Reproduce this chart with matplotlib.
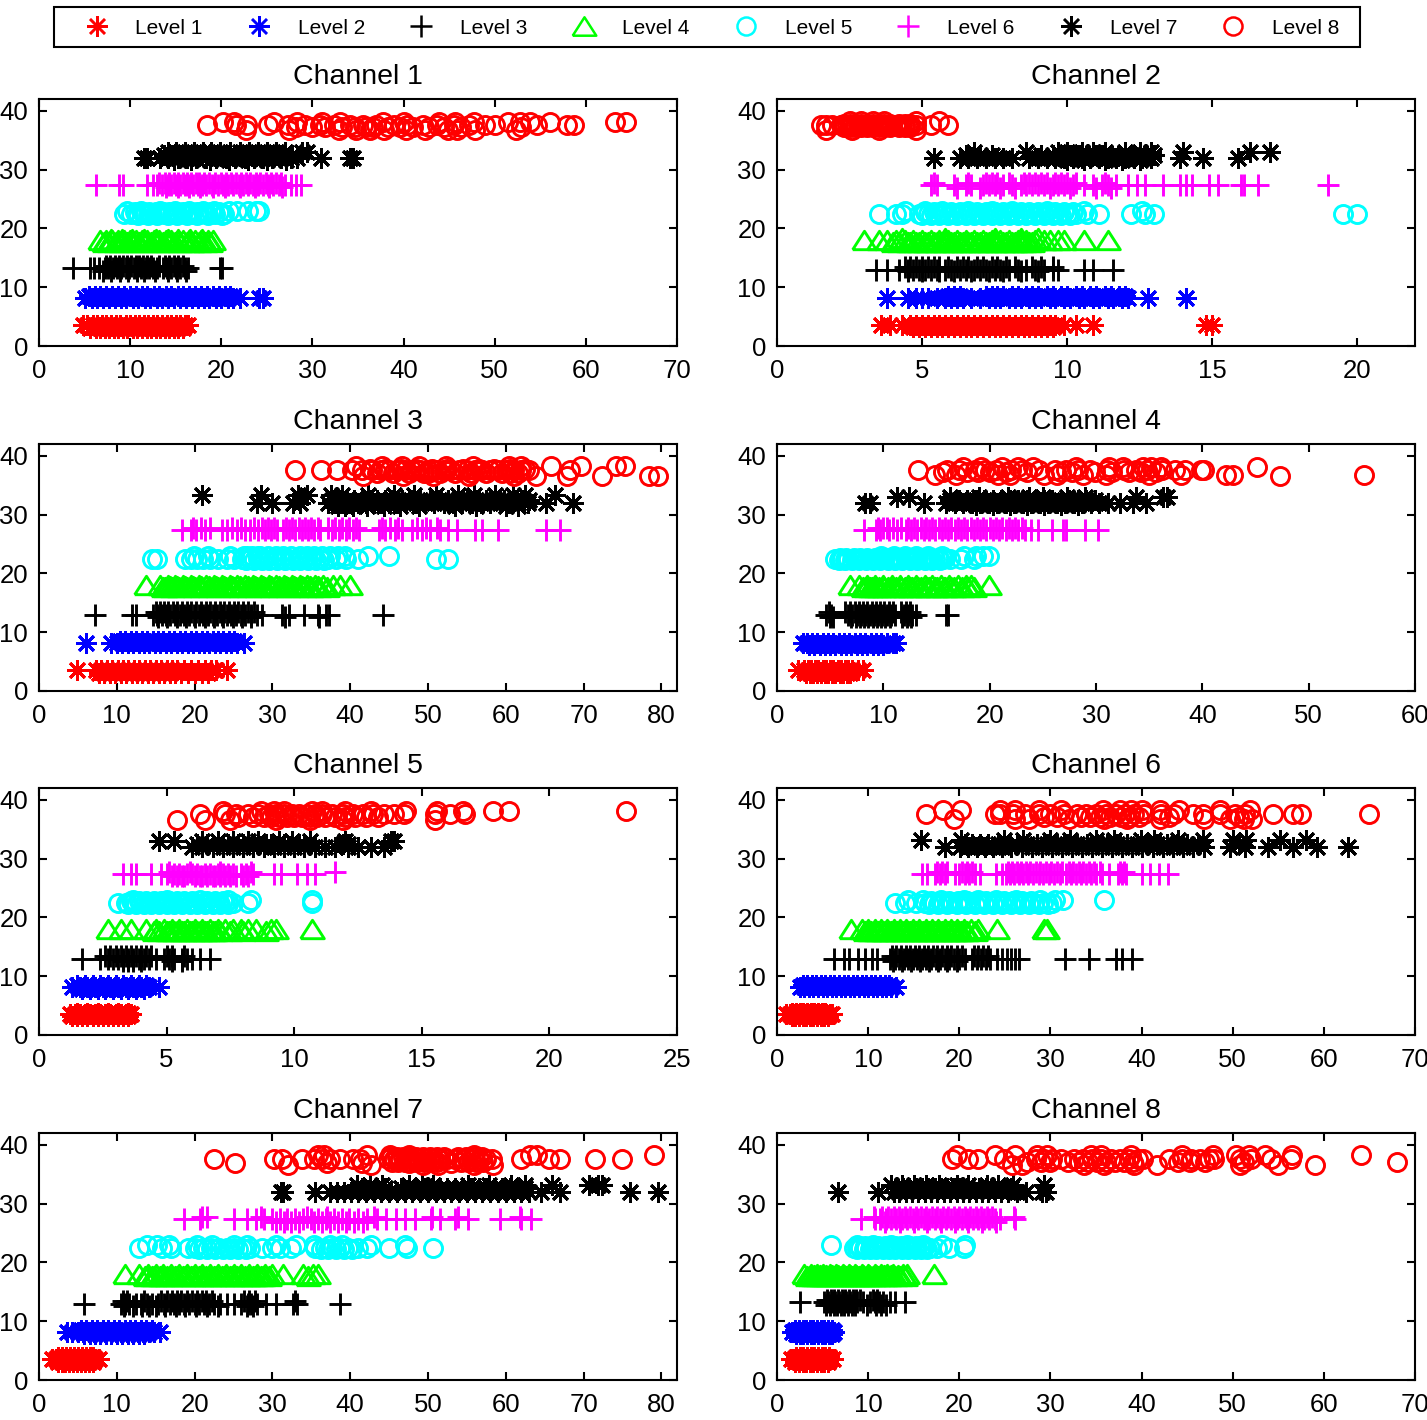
import matplotlib
matplotlib.use("Agg")
import matplotlib.pyplot as plt
from matplotlib.lines import Line2D
from matplotlib.patches import Rectangle

plt.rcParams['font.family'] = ['Liberation Sans', 'DejaVu Sans']

# every level is a list of rows (y, [x values])
ch1_l1 = [(3.5, [4.8,5.3,5.9,6.4,6.9,7.4,7.9,8.4,8.9,9.5,10.0,10.5,11.0,11.5,12.0,12.5,13.0,13.5,14.0,14.5,15.0,15.5,16.0,16.3]),
          (3.1, [5.6,6.2,6.7,7.2,7.7,8.2,8.7,9.2,9.7,10.3,10.8,11.3,11.8,12.3,12.8,13.3,13.8,14.3,14.8,15.3,15.8])]
ch1_l2 = [(8.2, [5.1,5.8,6.4,7.0,7.7,8.3,9.0,9.6,10.3,10.9,11.6,12.2,12.9,13.5,14.2,14.8,15.5,16.1,16.8,17.4,18.1,18.7,19.4,20.0,20.7,21.3,22.0,24.1,24.6]),
          (8.5, [5.5,6.1,6.7,7.4,8.0,8.7,9.3,10.0,10.6,11.3,11.9,12.6,13.2,13.9,14.5,15.2,15.8,16.5,17.1,17.8,18.4,19.1,19.7,20.4,21.0])]
ch1_l3 = [(13.2, [3.7,5.6,6.0,6.6,7.2,7.6,8.1,8.6,9.0,9.5,9.9,10.4,10.8,11.2,11.7,12.1,12.5,13.0,13.6,14.0,14.5,15.0,15.5,16.0,16.3,19.9,20.1]),
          (13.6, [7.4,7.8,8.3,8.8,9.2,9.7,10.1,10.6,11.0,11.4,11.9,12.3,13.2,13.8,14.3,14.8,15.3,15.8]),
          (12.8, [7.0,7.9,8.9,9.8,10.7,11.5,12.7,14.2,15.1,16.1])]
ch1_l4 = [(18.0, [6.7,7.4,8.0,8.7,9.3,10.0,10.6,11.3,11.9,12.6,13.2,13.9,14.5,15.2,15.8,16.5,17.1,17.8,18.5,19.1]),
          (17.7, [7.1,7.7,8.4,9.0,9.7,10.3,11.0,11.6,12.3,12.9,13.6,14.2,14.9,15.5,16.2,16.8,17.5,18.2,18.8]),
          (18.2, [7.9,9.1,10.2,11.5,12.8,14.1,15.3,16.6,17.9])]
ch1_l5 = [(22.5, [9.3,10.1,10.8,11.6,12.3,13.1,13.8,14.6,15.3,16.1,16.8,17.6,18.4,19.3,20.3]),
          (23.0, [9.7,11.2,13.3,14.9,16.5,18.0,19.2,20.9,21.7,22.9,23.8,24.1]),
          (22.8, [10.5,11.4,12.1,12.8,13.6,14.3,15.0,15.8,16.6,17.3,18.1,18.9,19.7]),
          (22.2, [10.9,12.0,13.0,14.1,15.1,16.2,17.3,18.5,20.1])]
ch1_l6 = [(27.3, [6.3,8.8,9.2,11.9,12.5,13.0,13.5,14.1,14.5,15.0,15.5,16.0,16.4,16.9,17.4,17.9,18.3,19.0,19.6,20.2,20.7,21.3,21.9,22.4,22.9,23.5,24.0,24.6,25.1,25.7,26.3,27.0,27.6,28.2,28.7]),
          (27.7, [13.2,13.8,14.3,14.8,15.3,15.8,16.2,16.7,17.2,17.6,18.1,18.6,19.3,20.0,20.5,21.1,21.6,22.2,22.7,23.2,23.8,24.3,24.9,25.4,26.0,26.6]),
          (27.0, [13.9,15.2,16.5,17.7,19.1,20.4,22.1,23.7,25.2,26.7])]
ch1_l7 = [(32.0, [11.5,11.9,13.3,14.2,15.2,16.2,17.2,18.3,19.4,20.5,21.5,22.6,23.6,24.6,25.6,26.5,27.6,28.3,30.9,34.1,34.4]),
          (33.0, [14.1,15.0,16.0,17.0,18.0,18.9,19.9,21.0,22.0,23.0,24.0,25.0,26.0,27.0,28.9,29.4]),
          (32.5, [13.7,14.6,15.6,16.6,17.6,18.6,19.6,20.7,21.7,22.7,23.7,24.7,25.7,26.7,27.8]),
          (31.7, [14.8,16.7,18.8,20.9,22.9,25.0,27.1])]
ch1_l8 = [(37.5, [18.4,21.6,22.8,25.1,27.3,29.2,30.8,32.4,34.1,35.5,37.0,38.9,40.4,42.1,43.7,45.5,47.2,48.9,50.0,54.6,57.9,58.7]),
          (36.8, [22.7,27.4,32.9,34.8,36.3,37.9,40.3,42.4,44.9,45.9,47.8,52.3]),
          (38.1, [20.2,21.4,25.8,28.3,31.1,33.0,37.7,40.0,43.9,45.6,47.7,51.5,52.8,53.9,56.1,63.2,64.4]),
          (37.3, [28.2,29.9,31.4,33.2,34.7,35.9,36.6,38.3,39.6,41.0,42.8,44.4,46.3,52.9])]

ch2_l1 = [(3.5, [3.6,3.9,4.3,4.6,4.8,5.0,5.2,5.4,5.6,5.8,6.0,6.2,6.4,6.6,6.8,7.0,7.2,7.4,7.6,7.8,8.0,8.2,8.4,8.6,8.8,9.0,9.2,9.4,9.6,9.9,10.3,10.9,14.8,15.0]),
          (3.2, [4.7,4.9,5.1,5.3,5.5,5.7,5.9,6.1,6.3,6.5,6.7,6.9,7.1,7.3,7.5,7.7,7.9,8.1,8.3,8.5,8.7,8.9,9.1,9.3,9.5])]
ch2_l2 = [(8.2, [3.8,4.5,4.8,5.0,5.2,5.5,5.8,6.0,6.2,6.4,6.7,7.0,7.3,7.5,7.7,8.0,8.2,8.4,8.7,8.9,9.1,9.4,9.6,9.9,10.1,10.4,10.6,10.9,11.1,11.4,11.6,11.9,12.1,12.8,14.1]),
          (8.5, [5.9,6.1,6.3,7.2,7.4,7.6,7.8,8.1,8.3,8.6,8.8,9.0,9.3,9.5,9.8,10.0,10.3,10.5,10.8,11.0,11.3,11.5,11.8,12.0])]
ch2_l3 = [(13.0, [3.4,3.8,4.2,4.5,4.7,4.9,5.1,5.3,5.5,5.8,6.0,6.3,6.5,6.8,7.0,7.2,7.5,7.7,8.0,8.3,8.6,8.9,9.2,9.5,9.7,10.6,10.9,11.6]),
          (13.4, [4.4,4.6,4.8,5.0,5.2,5.4,5.6,5.9,6.2,6.4,6.6,6.9,7.1,7.4,7.6,7.9,8.2,8.8,9.1,9.5]),
          (12.7, [4.5,5.0,5.6,6.1,6.7,7.3,7.8,8.4,9.0])]
ch2_l4 = [(18.0, [3.0,3.5,3.8,4.1,4.4,4.7,5.0,5.3,5.6,5.9,6.2,6.5,6.8,7.1,7.4,7.7,8.0,8.3,8.6,8.9,9.2,9.4,9.7,9.9,10.6,11.4]),
          (17.7, [4.0,4.2,4.5,4.6,4.8,4.9,5.1,5.2,5.4,5.5,5.7,5.8,6.0,6.1,6.3,6.4,6.6,6.7,6.9,7.0,7.2,7.3,7.5,7.6,7.8,7.9,8.1,8.2,8.4,8.5,8.7,8.8]),
          (18.3, [4.3,5.8,7.5,8.4,9.0])]
ch2_l5 = [(22.5, [3.5,4.1,4.3,4.9,5.2,5.5,5.8,6.1,6.4,6.7,7.0,7.3,7.6,7.9,8.2,8.5,8.8,9.1,9.4,9.7,10.0,10.3,10.7,11.1,12.2,12.7,13.0,19.5,20.0]),
          (23.0, [4.4,5.1,5.7,6.6,7.4,8.1,9.3,10.6,12.6]),
          (22.3, [5.0,5.3,5.6,5.9,6.2,6.5,6.8,7.1,7.4,7.7,8.0,8.3,8.6,8.9,9.2,9.5,9.8,10.1]),
          (22.8, [5.1,5.4,5.7,6.0,6.3,6.6,6.9,7.2,7.5,7.8,8.1,8.4,8.7,9.0,9.3,9.6,9.9,10.2])]
ch2_l6 = [(27.3, [5.3,5.5,6.1,6.5,6.7,7.1,7.3,7.5,7.8,8.1,8.4,8.6,8.8,9.0,9.2,9.5,9.7,9.9,10.2,10.6,10.9,11.2,11.4,11.7,12.1,12.4,12.7,13.3,13.9,14.1,14.3,14.9,15.2,16.0,16.1,16.6,19.0]),
          (27.7, [5.4,6.6,7.2,7.4,7.6,8.0,8.5,8.7,8.9,9.1,9.3,9.6,9.8,10.0,10.3,11.3]),
          (26.9, [6.2,7.0,7.7,8.2,9.4,10.1,11.0,11.5])]
ch2_l7 = [(32.0, [5.4,6.3,6.6,6.9,7.2,7.5,7.8,8.1,8.7,9.0,9.3,9.6,9.9,10.2,10.5,10.8,11.1,11.4,11.7,12.0,12.3,12.6,12.9,13.9,14.7,15.9]),
          (33.0, [6.8,8.6,9.7,10.0,10.5,10.9,11.3,12.0,12.5,12.9,14.0,16.3,17.0]),
          (32.5, [6.5,7.0,7.4,9.1,9.5,9.8,10.1,10.4,10.7,11.0,11.2,11.5,11.8,12.2,12.7,13.0]),
          (31.7, [10.0,10.6,11.3,11.9,12.5])]
ch2_l8 = [(37.5, [1.5,1.7,1.9,2.2,2.4,2.6,2.8,3.0,3.2,3.4,3.6,3.8,4.1,4.3,4.5,4.8,5.3,5.9]),
          (36.8, [1.7,2.6,3.5,4.8]),
          (38.2, [2.5,2.9,3.3,3.7,4.8,5.6]),
          (37.8, [2.3,2.5,2.7,2.9,3.1,3.3,3.5,3.7,3.9,4.2,4.4,4.6]),
          (37.2, [2.3,2.5,2.7,2.9,3.1,3.3,3.5,3.7,3.9,4.2,4.4,4.6])]

ch3_l1 = [(3.5, [4.9,7.3,8.0,8.7,9.4,10.1,10.8,11.5,12.2,12.9,13.6,14.3,15.0,15.7,16.4,17.1,17.8,18.7,19.6,20.4,21.3,22.1,22.8,24.2]),
          (3.1, [7.7,8.4,9.1,9.8,10.5,11.2,11.9,12.6,13.3,14.0,14.7,15.4,16.1,16.8,17.5,18.3,19.2,20.0,20.9,21.7])]
ch3_l2 = [(8.2, [6.0,9.3,10.0,10.7,11.4,12.1,12.8,13.5,14.2,14.9,15.6,16.3,17.0,17.7,18.4,19.1,19.8,20.5,21.2,21.9,22.6,23.3,24.0,24.7,25.4,26.3]),
          (8.5, [10.4,11.1,11.8,12.5,13.2,13.9,14.6,15.3,16.0,16.7,17.4,18.1,18.8,19.5,20.2,20.9,21.6,22.3,23.0,23.7,24.4,25.1])]
ch3_l3 = [(13.0, [7.2,11.9,12.5,14.7,15.2,15.8,16.3,16.9,17.5,18.1,18.7,19.3,19.9,20.5,21.1,21.7,22.3,22.9,23.5,24.1,24.7,25.3,25.9,26.5,27.2,28.0,28.7,31.2,32.1,34.0,35.8,36.9,37.3,44.2]),
          (13.4, [15.0,15.5,16.1,16.6,17.2,17.8,18.4,19.0,19.6,20.2,20.8,21.4,22.0,22.6,23.2,23.8,24.4,25.0,25.6,26.2,26.8,27.6]),
          (12.6, [15.3,16.5,17.7,18.9,20.1,21.3,22.5,23.7,24.9,26.1,27.3,31.6,36.0])]
ch3_l4 = [(18.0, [13.7,15.5,16.6,17.5,18.5,19.5,20.5,21.5,22.5,23.5,24.5,25.5,26.5,27.5,28.5,29.5,30.5,31.5,32.5,33.5,34.5,35.5,36.5,37.8,38.7,40.0]),
          (17.7, [15.9,16.2,17.1,18.0,19.0,20.0,21.0,22.0,23.0,24.0,25.0,26.0,27.0,28.0,29.0,30.0,31.0,32.0,33.0,34.0,35.0,36.0,37.0]),
          (17.8, [16.9,17.8,18.8,19.8,20.8,21.8,22.8,23.8,24.8,25.8,26.8,27.8,28.8,29.8,30.8,31.8,32.8,33.8,34.8,35.8])]
ch3_l5 = [(22.5, [14.5,15.2,18.8,19.5,20.3,21.1,22.0,23.0,24.1,25.1,26.1,27.1,28.1,29.1,30.1,31.1,32.1,33.1,34.1,35.1,36.1,37.2,38.2,39.5,41.0,51.0,52.6]),
          (23.0, [19.9,21.7,24.6,26.7,28.2,31.4,33.6,35.4,39.3,42.3,45.0]),
          (22.2, [26.6,27.6,28.6,29.6,30.6,31.6,32.6,33.6,34.6,35.6,36.6]),
          (22.9, [26.4,27.4,28.4,29.4,30.4,32.4,34.4,36.4,37.4,38.4])]
ch3_l6 = [(27.3, [18.4,19.5,20.2,21.3,23.5,24.2,25.4,26.5,27.1,28.2,29.0,29.8,30.6,31.3,32.1,32.9,33.8,34.6,35.4,36.1,37.6,38.5,39.4,40.3,41.1,43.7,44.5,45.7,46.6,48.0,49.2,50.3,51.6,52.6,53.7,56.0,57.0,59.0,65.1,66.9]),
          (27.7, [19.8,20.8,22.0,24.8,26.0,27.6,28.6,29.4,30.2,31.7,32.5,33.4,34.2,35.0,35.8,37.1,38.0,39.0,39.9,40.7,44.1,45.1,46.1,48.6,49.8,51.1])]
ch3_l7 = [(32.0, [28.0,30.0,32.7,33.6,37.1,38.0,38.9,39.9,41.0,42.0,43.0,44.0,45.0,46.0,47.2,48.4,49.6,50.8,52.0,53.2,54.4,55.6,56.8,58.0,59.2,60.4,61.6,62.8,65.2,68.6]),
          (33.3, [21.0,28.5,33.3,34.4,37.5,39.0,42.3,45.6,48.2,51.0,53.9,55.9,58.6,60.9,62.5,66.3]),
          (32.5, [37.6,38.5,39.4,40.5,41.5,42.5,43.5,44.5,45.5,46.6,47.8,49.0,50.2,51.4,52.6,53.8,55.0,56.2,57.4,58.6,59.8,61.0,62.2,63.0]),
          (31.5, [38.4,39.3,40.3,42.2,44.3,46.4,48.8,53.5,56.2,60.0,61.5])]
ch3_l8 = [(37.5, [32.9,36.2,38.3,40.2,41.5,42.8,44.0,45.0,46.0,47.0,48.0,49.0,50.0,51.0,52.0,53.0,54.0,55.0,56.0,57.0,58.0,59.0,60.0,61.0,62.0,63.0,68.2]),
          (36.6, [41.7,46.8,50.7,55.3,61.0,63.9,67.8,72.3,78.4,79.6]),
          (38.2, [40.8,44.1,46.7,48.8,52.3,55.8,60.4,61.9,65.8,69.6,74.1,75.3]),
          (37.0, [43.5,45.5,47.5,49.5,50.0,51.5,53.5,55.5,57.5,59.5,60.5,61.5]),
          (37.8, [42.5,44.5,46.5,48.5,50.5,52.5,54.5,56.5,58.5,60.5,62.5])]

ch4_l1 = [(3.5, [2.0,2.5,2.9,3.2,3.6,3.9,4.3,4.6,5.0,5.3,5.7,6.0,6.4,6.7,7.1,7.6,8.1]),
          (3.1, [2.7,3.1,3.4,3.8,4.1,4.5,4.8,5.2,5.5,5.9,6.2,6.6,6.9])]
ch4_l2 = [(8.2, [2.4,2.8,3.3,3.8,4.3,4.8,5.3,5.8,6.3,6.8,7.3,7.8,8.3,8.8,9.3,9.8,10.3,10.9,11.2]),
          (7.9, [3.0,3.5,4.0,4.5,5.0,5.5,6.0,6.5,7.0,7.5,8.0,8.5,9.0,9.5,10.0])]
ch4_l3 = [(13.0, [4.6,5.1,6.7,7.1,7.5,7.9,8.3,8.7,9.1,9.5,9.9,10.3,10.7,11.1,11.9,12.3,12.7,13.1,15.9,16.1]),
          (13.4, [4.9,6.4,6.9,7.3,7.7,8.1,8.5,8.9,9.3,9.7,10.1,10.5,10.9,11.7,12.1,12.5]),
          (12.6, [5.0,5.3,7.0,7.4,7.8,8.2,8.6,9.0,9.4,9.8,10.2,10.6,11.8,12.2,12.6])]
ch4_l4 = [(18.0, [6.9,7.7,8.5,9.2,10.0,10.8,11.6,12.3,13.1,13.9,14.6,15.4,16.2,17.0,17.8,18.2,19.9]),
          (17.7, [8.1,8.9,9.6,10.4,11.2,12.0,12.7,13.5,14.3,15.0,15.8,16.6]),
          (17.6, [8.4,8.7,9.3,10.1,10.9,11.7,12.5,13.3,14.1,14.9,15.7,16.4,17.4,18.0,18.5])]
ch4_l5 = [(22.5, [5.5,6.1,6.7,7.4,8.0,8.7,9.3,10.0,10.7,11.4,12.1,12.8,13.5,14.2,14.9,15.6,16.3,17.3,18.5]),
          (23.0, [9.8,11.0,12.0,13.1,14.2,15.5,17.6,18.7,19.4,19.9]),
          (22.2, [5.8,6.4,7.1,7.7,8.4,9.0,9.7,10.4,11.1,11.8,12.5,13.2,13.9,14.6,15.3]),
          (22.7, [5.9,6.5,7.2,7.8,8.5,9.2,10.2,10.9,11.6,12.3,13.0,13.7,14.4,15.1,15.8])]
ch4_l6 = [(27.3, [8.2,9.3,9.7,10.5,11.3,12.1,12.6,13.2,13.8,14.3,14.9,15.5,16.1,16.7,17.3,17.9,18.5,19.1,19.7,20.3,20.9,21.5,22.1,22.7,23.3,23.9,24.5,25.9,26.9,27.2,29.0,30.2]),
          (27.7, [9.5,10.0,10.3,10.9,11.7,12.3,12.9,13.5,14.0,14.6,15.2,15.8,16.4,17.0,17.6,18.2,18.8,19.4,20.0,20.6,21.2,21.8,22.4,23.0])]
ch4_l7 = [(32.0, [8.3,8.7,13.8,15.9,16.7,17.5,18.3,19.1,19.9,20.7,21.5,22.3,23.1,23.9,24.7,25.5,26.3,27.1,27.9,28.7,29.5,30.3,31.1,32.3,33.5,34.7]),
          (33.0, [11.3,12.4,16.3,19.0,21.7,23.7,25.0,27.3,29.0,33.8,36.3,36.7]),
          (32.5, [16.3,17.1,17.9,18.7,19.5,20.3,21.1,21.9,22.7,23.5,24.3,25.1,25.9,26.7,27.5,28.3,29.1,29.9]),
          (31.7, [18.7,20.3,21.9,23.5,25.1,26.7,28.3])]
ch4_l8 = [(37.5, [13.3,16.0,17.1,18.6,19.6,20.6,22.0,23.0,24.6,26.1,27.2,28.3,29.4,31.0,32.6,33.8,34.8,36.2,37.4,38.4,39.9,40.2]),
          (36.8, [14.9,16.8,20.8,21.9,25.1,26.3,28.8,30.9,35.0,38.0,42.2,42.9,55.2]),
          (38.1, [17.5,19.2,21.2,22.7,24.1,28.1,31.2,32.5,34.4,35.2,36.1,45.1]),
          (36.5, [47.3]),
          (37.2, [15.6,17.9,18.9,20.0,21.5,23.5,26.7,27.7,29.9,31.5,33.1,34.2,35.6])]

ch5_l1 = [(3.5, [1.2,1.4,1.6,1.8,2.0,2.2,2.4,2.6,2.8,3.0,3.2,3.4,3.6]),
          (3.2, [1.3,1.5,1.7,1.9,2.1,2.3,2.5,2.7,2.9,3.1,3.3,3.5]),
          (3.8, [1.5,1.9,2.3,2.7,3.1,3.5])]
ch5_l2 = [(8.2, [1.3,1.6,1.9,2.2,2.5,2.8,3.1,3.4,3.7,4.0,4.3,4.7]),
          (8.5, [1.5,1.8,2.1,2.4,2.7,3.0,3.3,3.6,3.9,4.2]),
          (7.9, [1.7,2.0,2.3,2.6,2.9,3.2,3.5,3.8,4.1])]
ch5_l3 = [(13.0, [1.7,2.4,2.7,2.9,3.1,3.3,3.5,3.7,3.9,4.1,4.3,4.6,4.9,5.1,5.3,5.6,5.8,6.0,6.3,6.7]),
          (13.4, [2.6,2.8,3.0,3.2,3.4,3.6,3.8,4.0,4.2,4.4,5.0,5.2,5.7]),
          (12.6, [3.3,3.5,3.7,4.0,5.2,5.6])]
ch5_l4 = [(18.0, [2.7,3.2,3.6,4.2,4.6,4.9,5.2,5.5,5.8,6.1,6.4,6.7,7.0,7.3,7.6,7.9,8.2,8.5,9.1,9.3,10.7]),
          (17.7, [4.5,4.7,5.0,5.1,5.3,5.4,5.6,5.7,5.9,6.0,6.2,6.3,6.5,6.6,6.8,6.9,7.1,7.5,8.0,8.9])]
ch5_l5 = [(22.5, [3.1,3.4,3.7,4.0,4.3,4.6,4.9,5.2,5.5,5.8,6.1,6.4,6.7,7.0,7.3,7.6,8.2,10.7]),
          (23.0, [3.7,5.0,6.3,7.4,8.3,10.7]),
          (22.2, [3.5,3.8,4.1,4.4,4.7,5.0,5.3,5.6,5.9,6.2,6.5,6.8,7.1,7.4]),
          (22.8, [3.6,3.9,4.2,4.5,4.8,5.1,5.4,5.7,6.0,6.6,6.9,7.2])]
ch5_l6 = [(27.3, [3.3,3.6,3.8,4.4,4.8,5.0,5.3,5.5,5.8,6.0,6.2,6.5,6.7,7.0,7.2,7.4,7.6,7.9,8.1,8.4,9.2,9.5,10.1,10.5,10.8]),
          (27.7, [5.1,5.9,7.1,8.3,11.6]),
          (27.0, [5.2,5.4,5.6,5.7,6.1,6.3,6.4,6.6,6.8,6.9,7.1,7.3,7.5,7.7,8.0,8.2])]
ch5_l7 = [(32.0, [6.0,6.4,6.8,7.2,7.6,8.0,8.4,8.8,9.2,9.6,10.0,10.4,10.8,11.2,11.6,12.1,12.5,13.0,13.5]),
          (33.0, [4.7,5.3,6.4,7.0,7.6,8.2,8.6,9.4,9.9,10.6,12.0,13.8,13.9]),
          (32.5, [6.2,6.6,7.4,7.8,8.0,8.4,8.9,9.1,9.6,10.2,10.4,11.9,12.1])]
ch5_l8 = [(37.5, [6.3,7.3,7.7,8.2,8.6,9.0,9.3,9.6,9.9,10.2,10.5,10.8,11.1,11.5,11.9,12.3,12.7,13.1,13.5,13.9,14.3,15.5,16.1,16.7]),
          (36.5, [5.4,6.5,7.5,9.3,10.6,11.9,15.5]),
          (38.1, [7.2,8.7,9.2,9.6,10.7,11.1,12.0,13.0,14.4,15.6,16.6,17.8,18.4,23.0]),
          (37.0, [7.8,8.4,8.8,9.1,9.4,9.7,10.0,10.3,10.6,10.9,11.2,11.6,12.0,12.4,12.8,13.3])]

ch6_l1 = [(3.5, [1.0,1.4,1.8,2.2,2.6,3.0,3.4,3.8,4.2,4.6,5.0,5.4,5.8,6.0]),
          (3.2, [1.6,2.0,2.4,2.8,3.2,3.6,4.0,4.4,4.8,5.2,5.6]),
          (3.8, [1.7,2.1,2.5,2.9,3.3,3.7,4.1,4.5,4.9,5.3])]
ch6_l2 = [(8.2, [2.5,3.0,3.5,4.0,4.5,5.0,5.5,6.0,6.5,7.0,7.5,8.0,8.5,9.0,9.5,10.0,10.5,11.0,11.5,12.0,12.5,13.1]),
          (8.5, [2.8,3.3,3.8,4.3,4.8,5.3,5.8,6.3,6.8,7.3,7.8,8.3,8.8,9.3,9.8,10.3,10.8,11.3,11.8,12.3])]
ch6_l3 = [(13.0, [6.2,7.3,7.9,8.9,9.7,10.4,11.0,12.4,12.9,13.4,13.9,14.4,14.9,15.4,15.9,16.4,16.9,17.4,17.9,18.4,18.9,19.4,20.0,20.6,21.4,21.9,22.4,22.9,23.4,24.1,24.7,25.2,25.7,26.1,26.6,31.6,34.2,37.2,37.8,39.0]),
          (13.4, [12.6,13.1,13.6,14.1,14.6,15.1,15.6,16.1,16.6,17.1,17.6,18.1,18.6,19.1,19.7,20.3,21.6,22.1,22.6,23.1]),
          (12.6, [12.7,13.7,14.7,15.7,16.7,17.7,18.7,19.8])]
ch6_l4 = [(18.0, [8.1,9.3,10.0,10.7,11.4,12.1,12.8,13.5,14.2,14.9,15.6,16.3,17.0,17.7,18.4,19.1,19.8,20.5,21.3,22.0,24.1,29.3,29.6]),
          (17.7, [9.7,10.3,11.1,11.8,12.5,13.2,13.9,14.6,15.3,16.0,16.7,17.4,18.1,18.8,19.5,20.2,20.9,21.7]),
          (17.6, [10.1,10.9,11.6,12.3,13.0,13.7,14.4,15.1,15.8,16.5,17.2,17.9,18.6,19.3,20.0,20.7])]
ch6_l5 = [(22.5, [12.9,14.0,15.3,16.2,17.2,18.2,19.2,20.2,21.2,22.2,23.2,24.2,25.2,26.2,27.2,28.2,29.2,30.2]),
          (23.0, [14.4,16.0,18.0,20.5,22.0,24.0,26.2,28.9,30.5,31.4,35.9]),
          (22.2, [16.7,17.7,18.7,19.7,20.7,21.7,22.7,23.7,24.7,25.7,26.7,27.7,28.7,29.7]),
          (22.8, [16.9,17.9,18.9,19.9,20.9,21.9,22.9,23.9,24.9,25.9,26.9,27.9])]
ch6_l6 = [(27.3, [15.9,16.5,17.3,17.9,18.4,19.5,20.0,20.6,21.1,21.7,22.3,24.0,24.7,25.1,25.6,26.0,26.5,27.0,27.5,28.1,28.7,29.2,29.8,30.4,31.0,31.7,32.3,32.8,33.4,33.9,34.5,35.0,35.7,36.4,37.4,37.9,38.3,40.0,40.9,41.9,42.9]),
          (27.7, [17.6,18.1,18.7,20.3,20.9,21.4,25.3,25.8,26.3,26.8,27.3,27.8,28.4,28.9,29.5,30.1,30.7,31.3,32.0,32.5,33.1,33.6,34.2,34.8,35.4,37.6,38.1])]
ch6_l7 = [(32.0, [18.4,20.1,21.0,21.9,22.8,23.7,24.7,25.7,26.9,28.0,29.1,30.2,31.3,32.4,33.5,34.6,35.7,36.8,37.9,39.0,40.1,41.2,42.3,43.4,44.5,45.6,46.8,49.7,51.3,53.9,56.6,59.2,62.6]),
          (33.2, [15.8,20.2,24.9,27.0,30.0,32.1,35.0,37.0,39.9,41.4,44.0,46.7,50.0,51.5,55.2,58.0]),
          (32.5, [20.6,21.4,22.3,23.2,24.2,26.3,27.4,28.5,29.6,30.7,31.8,32.9,34.0,35.1,36.2,37.3,38.4,39.5,40.6,41.7,42.8,43.9,45.0,46.2,50.7])]
ch6_l8 = [(37.5, [16.4,23.9,24.5,25.9,27.2,28.7,30.0,31.5,32.9,33.9,35.0,36.1,37.2,38.2,39.2,40.3,42.1,43.6,45.6,46.7,48.6,50.2,51.4,54.4,56.6,57.5,64.9]),
          (36.7, [19.4,26.1,27.7,32.0,35.9,38.4,42.0,46.8,49.7,51.2,52.1]),
          (38.2, [18.2,20.2,24.5,26.1,28.8,31.2,35.8,37.6,38.8,40.1,42.0,44.1,48.6,51.9]),
          (37.1, [29.3,30.7,33.3,34.3,35.4,36.5,37.7,38.7,39.7,43.0,50.7])]

ch7_l1 = [(3.5, [1.7,2.2,2.7,3.2,3.7,4.2,4.7,5.2,5.7,6.2,6.7,7.2,7.7]),
          (3.1, [2.4,2.9,3.4,3.9,4.4,4.9,5.4,5.9,6.4,6.9]),
          (3.9, [2.5,3.0,3.5,4.0,4.5,5.0,5.5,6.0,6.5,7.0])]
ch7_l2 = [(8.2, [3.6,4.3,5.0,5.7,6.4,7.1,7.8,8.5,9.2,9.9,10.6,11.3,12.0,12.7,13.4,14.1,14.8,15.5]),
          (8.5, [5.4,6.1,6.8,7.5,8.2,8.9,9.6,10.3,11.0,11.7,12.4,13.1,13.8,14.5]),
          (7.9, [5.8,6.5,7.2,7.9,8.6,9.3,10.0,10.7,11.4,12.1,12.8,13.5])]
ch7_l3 = [(13.0, [5.8,10.5,11.0,11.6,12.5,13.1,13.9,14.5,15.3,16.1,16.8,17.4,18.0,18.6,19.3,20.0,20.6,21.2,21.8,22.5,23.3,24.1,25.1,26.0,26.8,27.3,28.0,29.2,30.4,32.6,33.1,38.7]),
          (13.5, [10.8,11.3,13.5,15.7,16.5,17.1,17.7,18.3,19.0,19.7,20.3,20.9,21.5,22.2,26.4,27.0,27.7,32.9]),
          (12.6, [10.9,12.1,13.3,14.2,15.0,16.2,17.6,18.8,20.2,21.6,23.0,26.7,27.5])]
ch7_l4 = [(18.0, [11.1,12.8,14.0,15.0,16.0,17.0,18.0,19.0,20.0,21.0,22.0,23.0,24.0,25.0,26.0,27.0,28.0,29.0,30.0,31.3,33.9,35.2,35.9]),
          (17.7, [13.6,14.5,15.5,16.5,17.5,18.5,19.5,20.5,21.5,22.5,23.5,24.5,25.5,26.5,27.5,28.5,29.5]),
          (17.6, [13.9,14.8,15.8,16.8,17.8,18.8,19.8,20.8,21.8,22.8,23.8,24.8,25.8,26.8,27.8,28.8,34.6])]
ch7_l5 = [(22.5, [12.8,15.8,17.0,19.1,20.1,21.1,22.1,23.1,24.1,25.1,26.1,27.1,28.7,30.0,31.0,32.4,35.5,36.7,37.7,38.7,39.7,41.0,42.1,45.0,47.3,50.6]),
          (23.0, [13.9,15.2,16.7,20.3,22.2,25.0,26.7,30.4,33.0,35.4,37.4,39.0,42.7,47.0]),
          (22.2, [20.6,21.6,22.6,23.6,24.6,25.6,26.6,36.2,37.2,38.2,39.2,40.2])]
ch7_l6 = [(27.3, [18.7,20.7,25.0,26.7,27.9,28.9,30.0,31.0,31.9,32.9,33.9,34.9,35.9,36.9,37.9,38.9,39.9,41.0,42.1,43.4,44.6,45.9,47.1,48.3,50.4,51.5,53.5,55.1,59.3,62.0,63.2]),
          (27.8, [20.9,21.6,28.5,34.4,37.0,43.0,50.5,53.9,61.8]),
          (26.9, [30.5,31.5,32.4,33.4,35.4,36.4,37.4,38.4,39.4,40.5,41.6])]
ch7_l7 = [(32.0, [31.1,31.3,35.5,37.4,38.3,39.2,40.1,41.0,42.0,43.0,44.0,45.0,46.0,47.0,48.0,49.0,50.0,51.0,52.0,53.0,54.0,55.0,56.0,57.0,58.0,59.0,60.0,61.0,62.0,63.0,64.5,67.0,75.9,79.5]),
          (33.2, [40.9,42.5,44.1,47.6,49.2,50.7,55.1,57.9,60.7,62.4,65.9,70.7,71.8,72.3]),
          (32.6, [41.5,42.5,43.5,44.5,46.5,47.5,48.5,49.5,50.5,51.5,52.5,53.5,54.5,55.5,56.5,57.5,58.5,59.5,60.5,61.5,62.5])]
ch7_l8 = [(37.5, [22.5,30.2,31.2,33.8,35.4,36.4,37.4,38.7,40.3,41.3,44.8,45.6,46.4,47.2,48.0,48.9,49.8,50.7,51.6,52.5,53.5,54.5,55.5,56.5,57.4,58.2,61.9,65.6,66.9,71.5,74.9]),
          (36.6, [32.0,42.7,49.3,51.3,55.9,58.3]),
          (36.9, [25.2,37.0,41.5,47.5,53.0]),
          (38.2, [35.8,36.6,42.2,45.1,47.5,55.9,63.1,64.0,79.1]),
          (37.9, [45.2,46.0,46.8,47.6,48.4,49.3,50.2,51.1,52.0,53.9,54.9,55.9,56.9]),
          (37.1, [45.4,46.2,47.0,47.8,48.6,49.5,50.4,51.2,54.2,55.2,56.2,57.1])]

ch8_l1 = [(3.5, [1.5,1.9,2.3,2.7,3.1,3.5,3.9,4.3,4.7,5.1,5.5,5.8,6.1]),
          (3.1, [2.0,2.4,2.8,3.2,3.6,4.0,4.4,4.8,5.2,5.6]),
          (3.9, [2.1,2.5,2.9,3.3,3.7,4.1,4.5,4.9,5.3,5.7])]
ch8_l2 = [(8.2, [1.7,2.2,2.6,3.0,3.4,3.8,4.2,4.6,5.0,5.4,5.8,6.2]),
          (8.5, [2.0,2.4,2.8,3.2,3.6,4.0,4.4,4.8,5.2,5.6,6.0]),
          (7.9, [2.1,2.5,2.9,3.3,3.7,4.1,4.5,4.9,5.3,5.7,6.0])]
ch8_l3 = [(13.2, [2.5,5.2,5.6,6.0,6.4,6.8,7.2,7.6,8.0,8.4,8.8,9.4,10.2,10.8,11.2,11.6,12.4,13.0,14.0]),
          (13.6, [5.5,5.9,6.3,6.7,7.1,7.5,7.9,8.3,8.7,9.1,10.5,11.0]),
          (12.7, [5.4,5.8,6.2,6.6,7.0,7.4,7.8,8.2,8.6,9.9,10.9,11.4,12.0])]
ch8_l4 = [(18.0, [3.0,3.7,4.4,5.1,5.8,6.5,7.2,7.9,8.6,9.3,10.0,10.7,11.4,12.1,12.7,13.8,14.3,17.2]),
          (17.7, [3.3,3.6,3.9,4.2,4.5,4.8,5.0,5.3,5.6,5.9,6.2,6.5,6.8,7.0,7.3,7.6,7.9,8.2,8.5,8.8,9.0,9.3,9.6,9.9,10.2,10.5,10.8,11.1,11.5,11.9,12.3,12.9,13.5,14.0]),
          (17.8, [4.1,4.7,5.4,6.0,6.7,7.4,8.0,8.7,9.4,10.1,10.9,11.7,12.5,13.3])]
ch8_l5 = [(22.5, [8.4,9.1,9.8,10.5,11.2,11.9,12.6,13.3,14.0,14.7,15.4,16.1,16.8,17.5,18.9,20.5]),
          (23.0, [5.9,8.8,10.5,12.5,14.3,16.0,18.1,20.6]),
          (22.2, [8.8,9.5,10.2,10.9,11.6,12.3,13.0,13.7,14.4,15.1,15.8,16.5]),
          (22.8, [9.0,9.7,10.4,11.1,11.8,12.9,13.6,14.5,15.2,15.9])]
ch8_l6 = [(27.3, [9.2,10.8,11.3,12.0,12.5,13.1,13.7,14.3,14.9,15.5,16.1,16.7,17.3,17.9,18.5,19.1,19.7,20.3,20.9,21.5,22.1,22.7,23.3,23.9,24.5,26.1]),
          (27.7, [10.6,11.5,12.2,12.8,13.4,14.0,14.6,15.2,15.8,16.4,17.0,17.6,18.2,18.8,19.4,20.0,20.6,21.2,21.8,22.4,23.0,23.6,26.0]),
          (26.9, [11.9,13.5,15.0,16.5,18.0,19.5,21.0,22.5,24.0])]
ch8_l7 = [(32.0, [6.7,11.1,12.8,13.4,14.1,14.8,15.5,16.2,16.9,17.6,18.3,19.0,19.7,20.4,21.1,21.8,22.5,23.2,23.9,24.6,25.3,26.3,27.3,29.1,29.5]),
          (33.2, [12.5,13.7,15.0,16.4,17.8,19.8,21.0,23.0,24.2,25.9,29.3]),
          (32.6, [13.1,13.8,14.5,15.2,15.9,16.6,17.3,18.0,18.7,19.4,20.1,20.8,21.5,22.2,22.9,23.6,24.3,25.0,25.7])]
ch8_l8 = [(37.5, [19.2,21.0,22.1,24.9,28.4,29.3,30.2,31.2,32.6,33.6,34.6,35.6,36.6,37.6,38.6,39.6,40.2,43.0,44.4,45.4,46.4,47.4,47.9,50.8,52.0,54.2,56.4]),
          (36.5, [25.8,26.9,33.7,35.9,39.2,41.7,55.0,50.8,59.0]),
          (37.0, [68.0,51.2,45.3,27.4]),
          (38.2, [19.7,23.9,26.1,28.5,29.6,34.5,35.5,38.8,44.4,47.8,50.4,51.8,53.5,56.5,64.1]),
          (37.0, [29.0,30.0,31.9,33.1,34.1,35.1,36.1,37.1,38.1,39.1,44.0,47.0])]

channels = [
    [ch1_l1, ch1_l2, ch1_l3, ch1_l4, ch1_l5, ch1_l6, ch1_l7, ch1_l8],
    [ch2_l1, ch2_l2, ch2_l3, ch2_l4, ch2_l5, ch2_l6, ch2_l7, ch2_l8],
    [ch3_l1, ch3_l2, ch3_l3, ch3_l4, ch3_l5, ch3_l6, ch3_l7, ch3_l8],
    [ch4_l1, ch4_l2, ch4_l3, ch4_l4, ch4_l5, ch4_l6, ch4_l7, ch4_l8],
    [ch5_l1, ch5_l2, ch5_l3, ch5_l4, ch5_l5, ch5_l6, ch5_l7, ch5_l8],
    [ch6_l1, ch6_l2, ch6_l3, ch6_l4, ch6_l5, ch6_l6, ch6_l7, ch6_l8],
    [ch7_l1, ch7_l2, ch7_l3, ch7_l4, ch7_l5, ch7_l6, ch7_l7, ch7_l8],
    [ch8_l1, ch8_l2, ch8_l3, ch8_l4, ch8_l5, ch8_l6, ch8_l7, ch8_l8],
]
level_names = ["Level 1", "Level 2", "Level 3", "Level 4", "Level 5", "Level 6", "Level 7", "Level 8"]
xlims = [70, 22, 82, 60, 25, 70, 82, 70]
xticks = [
    [0, 10, 20, 30, 40, 50, 60, 70],
    [0, 5, 10, 15, 20],
    [0, 10, 20, 30, 40, 50, 60, 70, 80],
    [0, 10, 20, 30, 40, 50, 60],
    [0, 5, 10, 15, 20, 25],
    [0, 10, 20, 30, 40, 50, 60, 70],
    [0, 10, 20, 30, 40, 50, 60, 70, 80],
    [0, 10, 20, 30, 40, 50, 60, 70],
]
yticks = [0, 10, 20, 30, 40]

W, H = 1427, 1420
star = (8, 2, 0)
tri = [(-1, -0.78), (1, -0.78), (0, 0.78), (-1, -0.78)]
colors = ['#ff0000', '#0000ff', '#000000', '#00ff00', '#00ffff', '#ff00ff', '#000000', '#ff0000']
markers = [star, star, '+', tri, 'o', '+', star, 'o']
sizes = [15, 15, 16, 17, 13, 16, 15, 13]

col_x = [39, 777]
row_y = [99, 444, 788, 1133]
ax_w = 638
ax_h = 247


def style(i, mew=2.1):
    return dict(linestyle='none', color=colors[i], marker=markers[i], markersize=sizes[i],
                markerfacecolor='none', markeredgecolor=colors[i], markeredgewidth=mew)


fig = plt.figure(figsize=(W / 100, H / 100), dpi=100)

for n in range(8):
    x0 = col_x[n % 2]
    y0 = row_y[n // 2]
    ax = fig.add_axes([x0 / W, 1 - (y0 + ax_h) / H, ax_w / W, ax_h / H])
    for i, rows in enumerate(channels[n]):
        for y, xs in rows:
            ax.plot(xs, [y] * len(xs), **style(i))
    ax.set_xlim(0, xlims[n])
    ax.set_ylim(0, 42)
    ax.set_xticks(xticks[n])
    ax.set_yticks(yticks)
    ax.tick_params(axis='both', direction='in', top=True, right=True, length=6, width=1.5, labelsize=18.5)
    ax.tick_params(axis='x', pad=9.5)
    ax.tick_params(axis='y', pad=8)
    for s in ax.spines.values():
        s.set_linewidth(1.5)
    ax.set_title("Channel %d" % (n + 1), fontsize=20.5, pad=10.5)

handles = [Line2D([], [], **style(i, 1.8)) for i in range(8)]
fig.legend(handles, level_names, loc='lower left', ncols=8,
           bbox_to_anchor=(54 / W, 1 - 47 / H), borderaxespad=0,
           fontsize=15, frameon=False,
           borderpad=0.45, handlelength=3.2, handletextpad=0.26, columnspacing=1.1)
fig.add_artist(Rectangle((54 / W, 1 - 47 / H), 1306 / W, 40 / H, transform=fig.transFigure,
                         fill=False, edgecolor='black', linewidth=1.5))

fig.savefig("out.png", dpi=100)
